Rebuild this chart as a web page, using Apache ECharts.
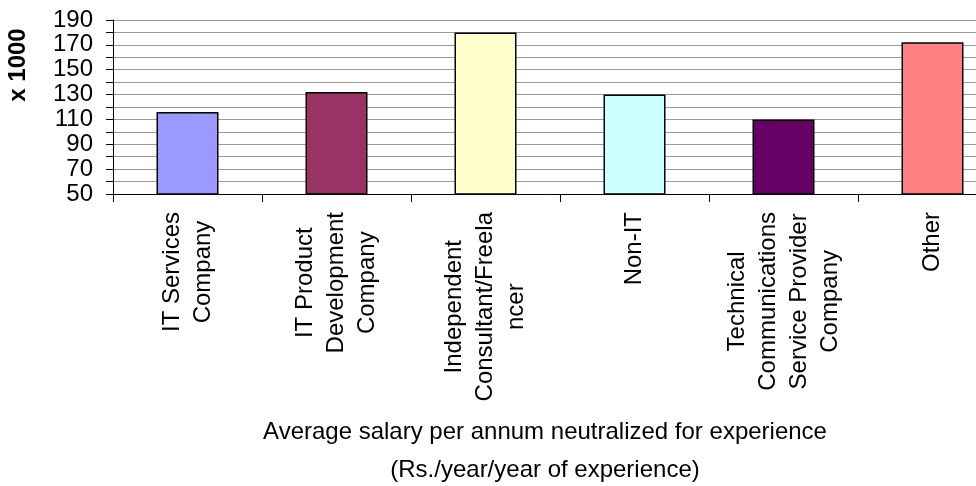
<!DOCTYPE html>
<html>
<head>
<meta charset="utf-8">
<script src="https://cdn.jsdelivr.net/npm/echarts@6/dist/echarts.min.js"></script>
<style>
  html, body { margin: 0; padding: 0; background: #fff; }
  #chart { width: 976px; height: 486px; }
</style>
</head>
<body>
<div id="chart"></div>
<script>
const categories = [
  'IT Services\nCompany',
  'IT Product\nDevelopment\nCompany',
  'Independent\nConsultant/Freela\nncer',
  'Non-IT',
  'Technical\nCommunications\nService Provider\nCompany',
  'Other'
]
const salaries = [116, 132, 180, 130, 110, 172]
const barColors = ['#9999FF', '#993366', '#FFFFCC', '#CCFFFF', '#660066', '#FF8080']
const yMin = 50
const yMax = 190
const yLabelStep = 20

const font = 'Liberation Sans, Arial, sans-serif'

const chart = echarts.init(document.getElementById('chart'))

chart.setOption({
  animation: false,
  textStyle: { fontFamily: font },
  // the plot runs past the right edge of the picture, as in the original
  grid: { left: 113, top: 20, height: 174, width: 894, outerBoundsMode: 'none', containLabel: false },
  title: {
    text: 'Average salary per annum neutralized for experience\n(Rs./year/year of experience)',
    left: 540,
    top: 408,
    textAlign: 'center',
    textStyle: { fontFamily: font, fontSize: 24, fontWeight: 'normal', color: '#000', lineHeight: 38 }
  },
  graphic: [
    {
      type: 'text',
      x: 18,
      y: 65,
      rotation: Math.PI / 2,
      style: {
        text: 'x 1000',
        font: 'bold 24px ' + font,
        fill: '#000',
        align: 'center',
        verticalAlign: 'middle'
      }
    }
  ],
  xAxis: {
    type: 'category',
    data: categories,
    axisLine: { lineStyle: { color: '#000', width: 1 } },
    axisTick: { show: true, length: 8, lineStyle: { color: '#000' } },
    splitLine: { show: false },
    axisLabel: {
      interval: 0,
      rotate: 90,
      margin: 18,
      color: '#000',
      formatter: (v) => v.split('\n').map((l) => '{c|' + l + '}').join('\n'),
      rich: {
        c: { align: 'center', fontSize: 24, lineHeight: 31, fontFamily: font, color: '#000' }
      }
    }
  },
  yAxis: {
    type: 'value',
    min: yMin,
    max: yMax,
    interval: 10,
    axisLine: { show: true, lineStyle: { color: '#000', width: 1 } },
    axisTick: { show: true, length: 7, lineStyle: { color: '#000' } },
    splitLine: { show: true, lineStyle: { color: '#999', width: 1 } },
    axisLabel: {
      margin: 20,
      fontSize: 24,
      color: '#000',
      formatter: (v) => ((v - yMin) % yLabelStep === 0 ? String(v) : '')
    }
  },
  series: [
    {
      type: 'bar',
      barWidth: 62,
      data: salaries.map((v, i) => ({
        value: v,
        itemStyle: { color: barColors[i], borderColor: '#000', borderWidth: 1.5 }
      }))
    }
  ]
})
</script>
</body>
</html>
